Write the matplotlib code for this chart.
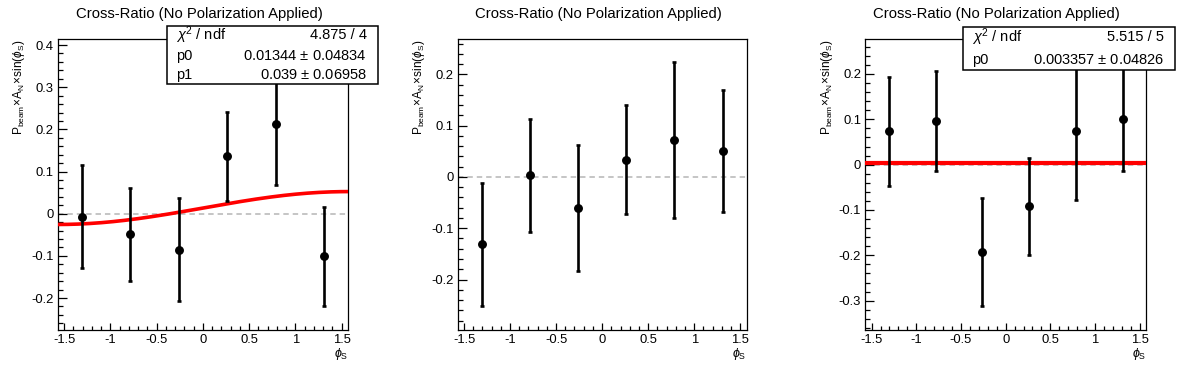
import numpy as np
import matplotlib
matplotlib.use("Agg")
import matplotlib.pyplot as plt
from matplotlib.ticker import MultipleLocator, FuncFormatter
from matplotlib.patches import Rectangle

plt.rcParams['font.family'] = ['Liberation Sans', 'DejaVu Sans']
plt.rcParams['mathtext.fontset'] = 'custom'
plt.rcParams['mathtext.rm'] = 'Liberation Sans'
plt.rcParams['mathtext.it'] = 'Liberation Sans:italic'
plt.rcParams['mathtext.bf'] = 'Liberation Sans:bold'
plt.rcParams['axes.unicode_minus'] = False

# ---- data ----
phi_centers = [-1.309, -0.785, -0.262, 0.262, 0.785, 1.309]

left_vals = [-0.007, -0.049, -0.085, 0.136, 0.212, -0.101]
left_errs = [0.122, 0.110, 0.123, 0.105, 0.144, 0.118]

mid_vals = [-0.131, 0.003, -0.061, 0.034, 0.072, 0.051]
mid_errs = [0.120, 0.110, 0.123, 0.106, 0.152, 0.119]

right_vals = [0.0735, 0.0956, -0.193, -0.092, 0.0735, 0.101]
right_errs = [0.120, 0.110, 0.119, 0.107, 0.152, 0.115]

left_fit = [0.01344, 0.039]      # p0 + p1*sin(phi)
right_fit = [0.003357]           # p0

left_stats = [(r"$\chi^{2}$ / ndf", "4.875 / 4"),
              ("p0", r"0.01344 $\pm$ 0.04834"),
              ("p1", r"0.039 $\pm$ 0.06958")]
right_stats = [(r"$\chi^{2}$ / ndf", "5.515 / 5"),
               ("p0", r"0.003357 $\pm$ 0.04826")]

title = "Cross-Ratio (No Polarization Applied)"
ylabel = r"$\mathrm{P}_{\mathrm{beam}}\!\times\!\mathrm{A}_{\mathrm{N}}\!\times\!\mathrm{sin}(\phi_{\mathrm{S}})$"
xlabel = r"$\phi_{\mathrm{S}}$"

W, H = 1196, 372
fig = plt.figure(figsize=(W / 100, H / 100), dpi=100)

def fbox(x0, y0, x1, y1):
    return [x0 / W, 1 - y1 / H, (x1 - x0) / W, (y1 - y0) / H]

panels = [
    dict(rect=fbox(57.5, 39.3, 348.3, 330), ylim=(-0.2758, 0.4136),
         vals=left_vals, errs=left_errs, fit=left_fit, stats=left_stats,
         cx=199.3, flw=2.6),
    dict(rect=fbox(457.5, 39.3, 746.7, 330), ylim=(-0.2985, 0.2686),
         vals=mid_vals, errs=mid_errs, fit=None, stats=None, cx=598, flw=2.6),
    dict(rect=fbox(865.3, 39.3, 1146, 330), ylim=(-0.3647, 0.2765),
         vals=right_vals, errs=right_errs, fit=right_fit, stats=right_stats,
         cx=996.7, flw=3.0),
]

fmt = FuncFormatter(lambda v, p: "%g" % round(v, 6))
xlo, xhi = -np.pi / 2, np.pi / 2

for P in panels:
    ax = fig.add_axes(P['rect'])
    ax.set_xlim(xlo, xhi)
    ax.set_ylim(*P['ylim'])
    ax.axhline(0, color='#c0c0c0', lw=1.3, ls=(0, (3, 2.2)), zorder=1)
    if P['fit'] is not None:
        xx = np.linspace(xlo, xhi, 200)
        if len(P['fit']) == 2:
            yy = P['fit'][0] + P['fit'][1] * np.sin(xx)
        else:
            yy = np.full_like(xx, P['fit'][0])
        ax.plot(xx, yy, color='#ff0000', lw=P['flw'], zorder=3, solid_capstyle='butt')
    ax.errorbar(phi_centers, P['vals'], yerr=P['errs'], fmt='o', color='black',
                ms=5.4, elinewidth=1.9, capsize=1.3, capthick=1.9, zorder=4)
    for s in ['left', 'right', 'top', 'bottom']:
        ax.spines[s].set_linewidth(0.9)
    ax.xaxis.set_major_locator(MultipleLocator(0.5))
    ax.xaxis.set_minor_locator(MultipleLocator(0.1))
    ax.yaxis.set_major_locator(MultipleLocator(0.1))
    ax.yaxis.set_minor_locator(MultipleLocator(0.02))
    ax.xaxis.set_major_formatter(fmt)
    ax.yaxis.set_major_formatter(fmt)
    ax.tick_params(axis='both', which='both', direction='in', labelsize=9.4,
                   width=0.9, top=False, right=False)
    ax.tick_params(axis='y', which='major', length=6.5, pad=3)
    ax.tick_params(axis='y', which='minor', length=3.3)
    ax.tick_params(axis='x', which='major', length=5.2, pad=3)
    ax.tick_params(axis='x', which='minor', length=2.8)
    ax.set_xlabel(xlabel, loc='right', fontsize=9, labelpad=0)
    ax.set_ylabel(ylabel, loc='top', fontsize=8.6, labelpad=3)
    fig.text(P['cx'] / W, 1 - 14 / H, title, ha='center', va='center', fontsize=10.7)

    if P['stats'] is not None:
        n = len(P['stats'])
        if n == 3:
            x0, y0, x1, y1 = 166.7, 26, 378.3, 84.3
            rows = [35, 56, 75]
            tl, tr = 176, 366.7
        else:
            x0, y0, x1, y1 = 962.7, 26.7, 1175.3, 70.3
            rows = [37, 60]
            tl, tr = 972, 1164.3
        rect = Rectangle((x0 / W, 1 - y1 / H), (x1 - x0) / W, (y1 - y0) / H,
                         transform=fig.transFigure, facecolor='white',
                         edgecolor='black', lw=1.1, zorder=10)
        fig.patches.append(rect)
        for (lab, val), ry in zip(P['stats'], rows):
            fig.text(tl / W, 1 - ry / H, lab, ha='left', va='center',
                     fontsize=10.5, zorder=11)
            fig.text(tr / W, 1 - ry / H, val, ha='right', va='center',
                     fontsize=10.5, zorder=11)

fig.savefig("out.png", dpi=100)
